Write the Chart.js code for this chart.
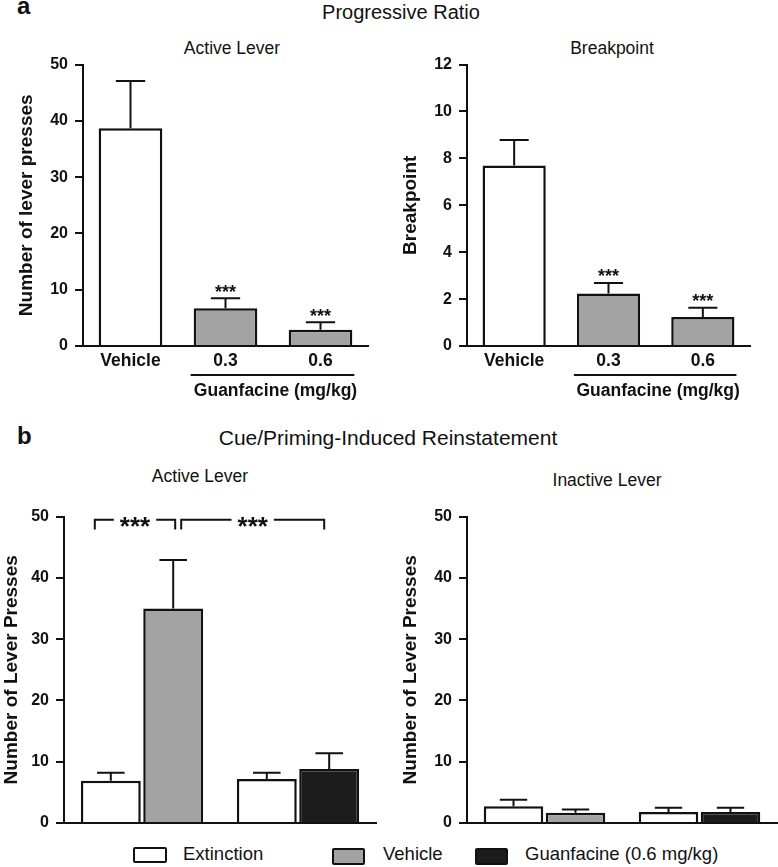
<!DOCTYPE html>
<html>
<head>
<meta charset="utf-8">
<script src="https://cdn.jsdelivr.net/npm/chart.js@4.4.0/dist/chart.umd.min.js"></script>
<style>
  body { margin: 0; background: #fff; width: 778px; height: 867px; position: relative; overflow: hidden;
         font-family: "Liberation Sans", Arial, sans-serif; color: #111; }
  .t { position: absolute; line-height: 1; white-space: nowrap; transform: translate(-50%, -50%); }
  .panel { position: absolute; left: 17px; font-weight: bold; font-size: 24px; line-height: 1; transform: translateY(-50%); }
  canvas { position: absolute; }
  .key { position: absolute; border: 2.5px solid #111; box-sizing: border-box; border-radius: 2px; }
  .keytext { position: absolute; font-size: 18.5px; line-height: 1; white-space: nowrap; transform: translateY(-50%); }
</style>
</head>
<body>

<div class="panel" style="top:6px">a</div>
<div class="t" style="left:401px; top:12px; font-size:20px">Progressive Ratio</div>
<div class="t" style="left:232px; top:49px; font-size:17.5px">Active Lever</div>
<div class="t" style="left:612px; top:49px; font-size:17.5px">Breakpoint</div>

<div class="panel" style="top:436px">b</div>
<div class="t" style="left:388px; top:437px; font-size:21px">Cue/Priming-Induced Reinstatement</div>
<div class="t" style="left:200px; top:477px; font-size:17.5px">Active Lever</div>
<div class="t" style="left:607px; top:481px; font-size:17.5px">Inactive Lever</div>

<canvas id="presses" width="390" height="362" style="left:0; top:48px"></canvas>
<canvas id="breakpoint" width="388" height="362" style="left:390px; top:48px"></canvas>
<canvas id="active" width="390" height="340" style="left:0; top:500px"></canvas>
<canvas id="inactive" width="388" height="340" style="left:390px; top:500px"></canvas>

<div class="key" style="left:133px; top:847px; width:34px; height:16px; background:#fff"></div>
<div class="keytext" style="left:183px; top:854px">Extinction</div>
<div class="key" style="left:332px; top:848px; width:33px; height:17px; background:#a3a3a3"></div>
<div class="keytext" style="left:383px; top:854px">Vehicle</div>
<div class="key" style="left:475px; top:848px; width:33px; height:17px; background:#1c1c1c"></div>
<div class="keytext" style="left:525px; top:854px">Guanfacine (0.6 mg/kg)</div>

<script>
'use strict';

// progressive ratio (panel a)
let prLabels = ['Vehicle', '0.3', '0.6'];
let prPresses = [38.7, 6.7, 2.9];
let prPressesSem = [8.4, 1.8, 1.3];
let prBreakpoint = [7.7, 2.24, 1.24];
let prBreakpointSem = [1.08, 0.45, 0.39];
let prStars = ['', '***', '***'];

// reinstatement (panel b)
let reinGroups = ['Vehicle', 'Guanfacine'];
let extActive = [6.9, 7.2];
let extActiveSem = [1.3, 1.0];
let vehActive = [35.0, null];
let vehActiveSem = [7.9, null];
let guanActive = [null, 8.8];
let guanActiveSem = [null, 2.6];

let extInactive = [2.75, 1.78];
let extInactiveSem = [1.05, 0.69];
let vehInactive = [1.66, null];
let vehInactiveSem = [0.54, null];
let guanInactive = [null, 1.8];
let guanInactiveSem = [null, 0.67];

let FONT = '"Liberation Sans", Arial, sans-serif';
let INK = '#111';
let GREY = '#a3a3a3';
let BLACK = '#1c1c1c';

Chart.defaults.font.family = FONT;
Chart.defaults.color = INK;

// error bars (upper only) + stars above them
let errorBars = {
    id: 'errorBars',
    afterDatasetsDraw(chart) {
        let ctx = chart.ctx;
        let y = chart.scales.y;
        ctx.save();
        ctx.strokeStyle = INK;
        ctx.fillStyle = INK;
        ctx.lineWidth = 2;
        chart.data.datasets.forEach((ds, i) => {
            chart.getDatasetMeta(i).data.forEach((bar, j) => {
                let v = ds.data[j];
                if (v == null || !ds.sem || ds.sem[j] == null) return;
                let top = y.getPixelForValue(v + ds.sem[j]);
                let half = bar.width * 0.23;
                ctx.beginPath();
                ctx.moveTo(bar.x, bar.y);
                ctx.lineTo(bar.x, top);
                ctx.moveTo(bar.x - half, top);
                ctx.lineTo(bar.x + half, top);
                ctx.stroke();
                if (ds.stars && ds.stars[j]) {
                    ctx.font = 'bold 18px ' + FONT;
                    ctx.textAlign = 'center';
                    ctx.textBaseline = 'alphabetic';
                    ctx.fillText(ds.stars[j], bar.x, top - 0.5);
                }
            });
        });
        ctx.restore();
    }
};

// line + "Guanfacine (mg/kg)" under the dose labels
let doseLine = {
    id: 'doseLine',
    afterDraw(chart, args, opts) {
        if (!opts.text) return;
        let ctx = chart.ctx;
        let x = chart.scales.x;
        let bars = chart.getDatasetMeta(0).data;
        let a = bars[opts.from];
        let b = bars[opts.to];
        let x1 = a.x - a.width / 2 - 3;
        let x2 = b.x + b.width / 2 + 2;
        ctx.save();
        ctx.strokeStyle = INK;
        ctx.lineWidth = 2;
        ctx.beginPath();
        ctx.moveTo(x1, x.top + 29);
        ctx.lineTo(x2, x.top + 29);
        ctx.stroke();
        ctx.fillStyle = INK;
        ctx.font = 'bold 17.5px ' + FONT;
        ctx.textAlign = 'center';
        ctx.textBaseline = 'middle';
        ctx.fillText(opts.text, (x1 + x2) / 2 + 3, x.top + 45);
        ctx.restore();
    }
};

// significance brackets
let sigBrackets = {
    id: 'sigBrackets',
    afterDatasetsDraw(chart, args, opts) {
        if (!opts.items) return;
        let ctx = chart.ctx;
        let y = chart.scales.y;
        ctx.save();
        ctx.strokeStyle = INK;
        ctx.fillStyle = INK;
        ctx.lineWidth = 2;
        ctx.font = 'bold 26px ' + FONT;
        ctx.textAlign = 'center';
        ctx.textBaseline = 'alphabetic';
        opts.items.forEach(it => {
            let a = chart.getDatasetMeta(it.from[0]).data[it.from[1]];
            let b = chart.getDatasetMeta(it.to[0]).data[it.to[1]];
            let x1 = a.x + it.dx[0];
            let x2 = b.x + it.dx[1];
            let top = y.getPixelForValue(it.y);
            let foot = y.getPixelForValue(it.foot);
            let cx = (x1 + x2) / 2;
            let tw = ctx.measureText(it.label).width;
            ctx.beginPath();
            ctx.moveTo(x1, foot);
            ctx.lineTo(x1, top);
            ctx.lineTo(cx - tw / 2 - 6, top);
            ctx.moveTo(cx + tw / 2 + 6, top);
            ctx.lineTo(x2, top);
            ctx.lineTo(x2, foot);
            ctx.stroke();
            ctx.fillText(it.label, cx, top + 15);
        });
        ctx.restore();
    }
};

function yScale(max, step, title, width, titlePad) {
    return {
        min: 0,
        max: max,
        ticks: { stepSize: step, padding: 7, color: INK, font: { size: 16, weight: 'bold' } },
        grid: { display: true, drawOnChartArea: false, drawTicks: true, tickLength: 8, color: INK, lineWidth: 2 },
        border: { display: true, color: INK, width: 2 },
        title: { display: true, text: title, color: INK, font: { size: 19, weight: 'bold' },
                 padding: { top: titlePad, bottom: 0 } },
        afterFit: s => { s.width = width; }
    };
}

function xScale(showTicks, height) {
    return {
        grid: { display: false, drawTicks: false },
        border: { display: true, color: INK, width: 2 },
        ticks: { display: showTicks, padding: 5, color: INK, font: { size: 17.5, weight: 'bold' } },
        afterFit: s => { s.height = height; }
    };
}

function prChart(id, values, sem, max, step, title, yWidth, titlePad, padRight) {
    return new Chart(document.getElementById(id), {
        type: 'bar',
        data: {
            labels: prLabels,
            datasets: [{
                data: values,
                sem: sem,
                stars: prStars,
                backgroundColor: ['#ffffff', GREY, GREY],
                borderColor: INK,
                borderWidth: 2.5,
                borderSkipped: 'start',
                barPercentage: 0.67,
                categoryPercentage: 1
            }]
        },
        options: {
            responsive: false,
            animation: false,
            layout: { padding: { top: 14, right: padRight, left: 0, bottom: 0 } },
            scales: {
                x: xScale(true, 64),
                y: yScale(max, step, title, yWidth, titlePad)
            },
            plugins: {
                legend: { display: false },
                tooltip: { enabled: false },
                doseLine: { text: 'Guanfacine (mg/kg)', from: 1, to: 2 }
            }
        },
        plugins: [errorBars, doseLine]
    });
}

prChart('presses', prPresses, prPressesSem, 50, 10, 'Number of lever presses', 83, 15.6, 22);
prChart('breakpoint', prBreakpoint, prBreakpointSem, 12, 2, 'Breakpoint', 77, 9.6, 28);

function reinChart(id, ext, extSem, veh, vehSem, guan, guanSem, yWidth, titlePad, padRight, brackets) {
    let common = { borderColor: INK, borderWidth: 2.5, borderSkipped: 'start',
                   barPercentage: 0.96, categoryPercentage: 0.8, skipNull: true };
    return new Chart(document.getElementById(id), {
        type: 'bar',
        data: {
            labels: reinGroups,
            datasets: [
                Object.assign({ label: 'Extinction', data: ext, sem: extSem, backgroundColor: '#ffffff' }, common),
                Object.assign({ label: 'Vehicle', data: veh, sem: vehSem, backgroundColor: GREY }, common),
                Object.assign({ label: 'Guanfacine (0.6 mg/kg)', data: guan, sem: guanSem, backgroundColor: BLACK }, common)
            ]
        },
        options: {
            responsive: false,
            animation: false,
            layout: { padding: { top: 14, right: padRight, left: 0, bottom: 0 } },
            scales: {
                x: xScale(false, 17),
                y: yScale(50, 10, 'Number of Lever Presses', yWidth, titlePad)
            },
            plugins: {
                legend: { display: false },
                tooltip: { enabled: false },
                sigBrackets: { items: brackets }
            }
        },
        plugins: [errorBars, sigBrackets]
    });
}

reinChart('active', extActive, extActiveSem, vehActive, vehActiveSem, guanActive, guanActiveSem, 64, 0, 14, [
    { from: [0, 0], to: [1, 0], dx: [-16, 2], y: 49.5, foot: 47.9, label: '***' },
    { from: [1, 0], to: [2, 1], dx: [8, -5], y: 49.5, foot: 47.9, label: '***' }
]);
reinChart('inactive', extInactive, extInactiveSem, vehInactive, vehInactiveSem, guanInactive, guanInactiveSem, 77, 9.6, 1, null);
</script>
</body>
</html>
